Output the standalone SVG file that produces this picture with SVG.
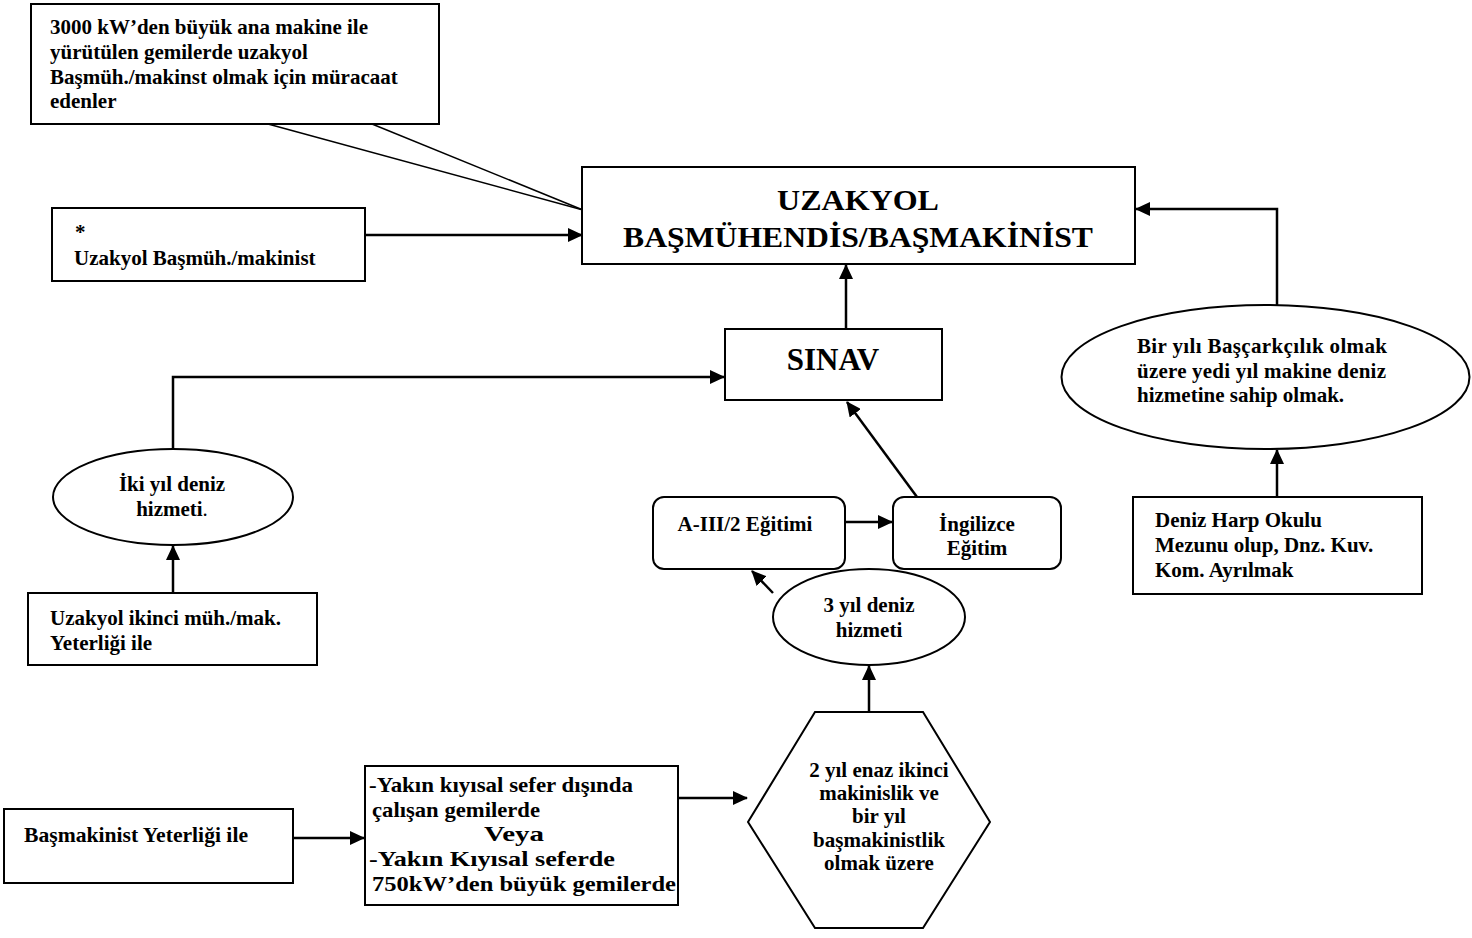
<svg xmlns="http://www.w3.org/2000/svg" width="1472" height="938" viewBox="0 0 1472 938">
<style>
text{font-family:"Liberation Serif","Times New Roman",serif;font-weight:bold;fill:#000;font-size:21px}
.box{fill:#fff;stroke:#000;stroke-width:2}
.c{text-anchor:middle}
.con{fill:none;stroke:#000;stroke-width:2.5}
.thin{fill:none;stroke:#000;stroke-width:1.5}
</style>
<defs>
<marker id="ah" markerUnits="userSpaceOnUse" markerWidth="16" markerHeight="14" refX="14" refY="7" orient="auto">
<path d="M0,0 L15,7 L0,14 z" fill="#000"/>
</marker>
</defs>
<rect width="1472" height="938" fill="#fff"/>

<g id="connectors">
<line class="thin" x1="268" y1="124" x2="583" y2="210"/>
<line class="thin" x1="372" y1="124" x2="583" y2="210"/>
<line class="con" x1="365" y1="235" x2="582" y2="235" marker-end="url(#ah)"/>
<polyline class="con" points="1277,305 1277,209 1136,209" marker-end="url(#ah)"/>
<line class="con" x1="846" y1="329" x2="846" y2="265" marker-end="url(#ah)"/>
<polyline class="con" points="173,449 173,377 724,377" marker-end="url(#ah)"/>
<line class="con" x1="173" y1="593" x2="173" y2="546" marker-end="url(#ah)"/>
<line class="con" x1="1277" y1="497" x2="1277" y2="450" marker-end="url(#ah)"/>
<line class="con" x1="846" y1="522" x2="892" y2="522" marker-end="url(#ah)"/>
<line class="con" x1="917" y1="497" x2="847" y2="402" marker-end="url(#ah)"/>
<line class="con" x1="773" y1="593" x2="752" y2="571" marker-end="url(#ah)"/>
<line class="con" x1="869" y1="712" x2="869" y2="666" marker-end="url(#ah)"/>
<line class="con" x1="293" y1="838" x2="364" y2="838" marker-end="url(#ah)"/>
<line class="con" x1="678" y1="798" x2="747" y2="798" marker-end="url(#ah)"/>
</g>

<g id="callout">
<path class="box" d="M31,4 H439 V124 H31 Z"/>
<text x="50" y="34">3000 kW’den büyük ana makine ile</text>
<text x="50" y="59">yürütülen gemilerde uzakyol</text>
<text x="50" y="84">Başmüh./makinst olmak için müracaat</text>
<text x="50" y="108">edenler</text>
</g>

<g id="uzakyol-basmuh">
<rect class="box" x="52" y="208" width="313" height="73"/>
<text x="75" y="239">*</text>
<text x="74" y="265">Uzakyol Başmüh./makinist</text>
</g>

<g id="main">
<rect class="box" x="582" y="167" width="553" height="97"/>
<text class="c" x="858" y="210" style="font-size:29px" textLength="162" lengthAdjust="spacingAndGlyphs">UZAKYOL</text>
<text class="c" x="858" y="247" style="font-size:29px" textLength="470" lengthAdjust="spacingAndGlyphs">BAŞMÜHENDİS/BAŞMAKİNİST</text>
</g>

<g id="sinav">
<rect class="box" x="725" y="329" width="217" height="71"/>
<text class="c" x="833" y="370" style="font-size:31px">SINAV</text>
</g>

<g id="yedi-yil">
<ellipse class="box" cx="1265.5" cy="377" rx="204" ry="72"/>
<text x="1137" y="353" textLength="250" lengthAdjust="spacing">Bir yılı Başçarkçılık olmak</text>
<text x="1137" y="378" textLength="249" lengthAdjust="spacing">üzere yedi yıl makine deniz</text>
<text x="1137" y="402">hizmetine sahip olmak.</text>
</g>

<g id="deniz-harp">
<rect class="box" x="1133" y="497" width="289" height="97"/>
<text x="1155" y="527">Deniz Harp Okulu</text>
<text x="1155" y="552">Mezunu olup, Dnz. Kuv.</text>
<text x="1155" y="577">Kom. Ayrılmak</text>
</g>

<g id="iki-yil">
<ellipse class="box" cx="173" cy="497" rx="120" ry="48"/>
<text class="c" x="172" y="491">İki yıl deniz</text>
<text class="c" x="172" y="516">hizmeti<tspan style="font-weight:normal">.</tspan></text>
</g>

<g id="uzakyol-ikinci">
<rect class="box" x="28" y="593" width="289" height="72"/>
<text x="50" y="625">Uzakyol ikinci müh./mak.</text>
<text x="50" y="650">Yeterliği ile</text>
</g>

<g id="a3-egitim">
<rect class="box" x="653" y="497" width="192" height="72" rx="11"/>
<text class="c" x="745" y="531">A-III/2 Eğitimi</text>
</g>

<g id="ingilizce">
<rect class="box" x="893" y="497" width="168" height="72" rx="11"/>
<text class="c" x="977" y="531">İngilizce</text>
<text class="c" x="977" y="555">Eğitim</text>
</g>

<g id="uc-yil">
<ellipse class="box" cx="869" cy="617" rx="96" ry="48"/>
<text class="c" x="869" y="612">3 yıl deniz</text>
<text class="c" x="869" y="637">hizmeti</text>
</g>

<g id="hexagon">
<polygon class="box" points="815,712 923,712 990,822 923,928 815,928 748,822"/>
<text class="c" x="879" y="777">2 yıl enaz ikinci</text>
<text class="c" x="879" y="800">makinislik ve</text>
<text class="c" x="879" y="823">bir yıl</text>
<text class="c" x="879" y="847">başmakinistlik</text>
<text class="c" x="879" y="870">olmak üzere</text>
</g>

<g id="basmakinist">
<rect class="box" x="4" y="809" width="289" height="74"/>
<text x="24" y="842" textLength="224" lengthAdjust="spacingAndGlyphs">Başmakinist Yeterliği ile</text>
</g>

<g id="kiyisal">
<rect class="box" x="365" y="766" width="313" height="139"/>
<text x="369" y="792" textLength="264" lengthAdjust="spacingAndGlyphs">-Yakın kıyısal sefer dışında</text>
<text x="372" y="817" textLength="168" lengthAdjust="spacingAndGlyphs">çalışan gemilerde</text>
<text class="c" x="514" y="841" textLength="60" lengthAdjust="spacingAndGlyphs">Veya</text>
<text x="369" y="866" textLength="246" lengthAdjust="spacingAndGlyphs">-Yakın Kıyısal seferde</text>
<text x="372" y="891" textLength="304" lengthAdjust="spacingAndGlyphs">750kW’den büyük gemilerde</text>
</g>
</svg>
